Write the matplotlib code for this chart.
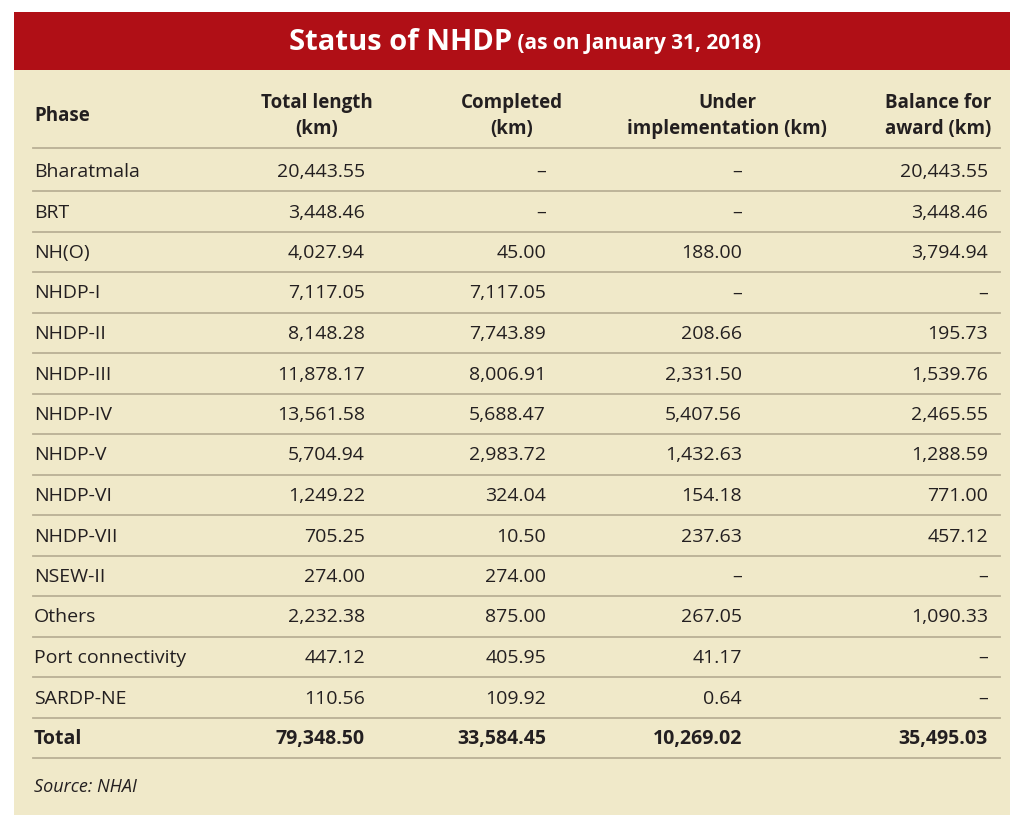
import matplotlib
matplotlib.use('Agg')
import matplotlib.pyplot as plt
from matplotlib.patches import Rectangle

phases=['Bharatmala','BRT','NH(O)','NHDP-I','NHDP-II','NHDP-III','NHDP-IV','NHDP-V',
        'NHDP-VI','NHDP-VII','NSEW-II','Others','Port connectivity','SARDP-NE']
total_length=['20,443.55','3,448.46','4,027.94','7,117.05','8,148.28','11,878.17','13,561.58',
              '5,704.94','1,249.22','705.25','274.00','2,232.38','447.12','110.56']
completed=['–','–','45.00','7,117.05','7,743.89','8,006.91','5,688.47','2,983.72',
           '324.04','10.50','274.00','875.00','405.95','109.92']
under_impl=['–','–','188.00','–','208.66','2,331.50','5,407.56','1,432.63',
            '154.18','237.63','–','267.05','41.17','0.64']
balance=['20,443.55','3,448.46','3,794.94','–','195.73','1,539.76','2,465.55','1,288.59',
         '771.00','457.12','–','1,090.33','–','–']
totals=['Total','79,348.50','33,584.45','10,269.02','35,495.03']
headers=['Phase','Total length\n(km)','Completed\n(km)','Under\nimplementation (km)','Balance for\naward (km)']

plt.rcParams['font.family']=['Open Sans','DejaVu Sans']
fig=plt.figure(figsize=(10.24,8.27),dpi=100)
ax=fig.add_axes([0,0,1,1])
ax.set_xlim(0,1024); ax.set_ylim(827,0); ax.axis('off')

bg='#f0e9c9'; red='#b00f16'; txt='#231f20'; line='#b9b095'
ax.add_patch(Rectangle((14,12),996,803,color=bg,lw=0))
ax.add_patch(Rectangle((14,12),996,58,color=red,lw=0))
ax.text(512,43,'Status of NHDP',color='white',fontsize=21,fontweight='bold',ha='right',va='center',
        transform=ax.transData)
ax.text(512,43,' (as on January 31, 2018)',color='white',fontsize=15,fontweight='bold',ha='left',va='center')

# header
hx=[34,317,512,727,938]
hha=['left','center','center','center','center']
for i,h in enumerate(headers):
    ax.text(hx[i],116,h,ha=hha[i],va='center',fontsize=13.5,fontweight='bold',color=txt,linespacing=1.45)

colx=[34,365,546,742,988]
step=40.5
ax.plot([33,1000],[148,148],color=line,lw=1.3)
for r in range(len(phases)+1):
    y=172+r*step
    if r<len(phases):
        vals=[phases[r],total_length[r],completed[r],under_impl[r],balance[r]]
        w='normal'
    else:
        vals=totals; w='bold'
    for c,v in enumerate(vals):
        ax.text(colx[c],y,v,ha='left' if c==0 else 'right',va='center',fontsize=14,fontweight=w,color=txt)
    ax.plot([33,1000],[y+19,y+19],color=line,lw=1.3)

ax.text(34,787,'Source: NHAI',ha='left',va='center',fontsize=13,style='italic',color=txt)
fig.savefig('out.png',dpi=100,facecolor='white')
